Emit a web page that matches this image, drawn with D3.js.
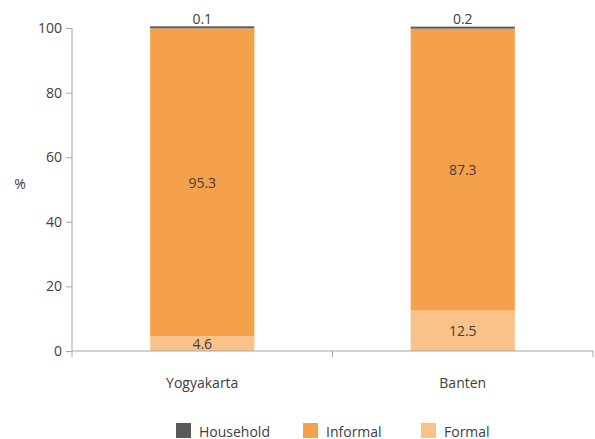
<!DOCTYPE html>
<html><head><meta charset="utf-8">
<script src="https://cdn.jsdelivr.net/npm/d3@7"></script>
<style>body{margin:0;background:#fff}svg text{font-family:"Open Sans",sans-serif;fill:#404040}</style>
</head><body><svg id="c" width="595" height="439"></svg>
<script>
const categories = ["Yogyakarta", "Banten"];
const seriesNames = ["Formal", "Informal", "Household"];
const formal = [4.6, 12.5];
const informal = [95.3, 87.3];
const household = [0.1, 0.2];
const yTicks = [0, 20, 40, 60, 80, 100];
const colors = {Household: "#58595b", Informal: "#f5a04a", Formal: "#f9c289"};

const svg = d3.select("#c");
const x = d3.scaleBand().domain(categories).range([72, 593]).paddingInner(0.6).paddingOuter(0.3);
const y = d3.scaleLinear().domain([0, 100]).range([351, 28]);

const data = categories.map((c, i) => ({cat: c, Formal: formal[i], Informal: informal[i], Household: household[i]}));
const stack = d3.stack().keys(seriesNames)(data);

// bars
stack.forEach(layer => {
  const key = layer.key;
  svg.append("g").selectAll("rect").data(layer).join("rect")
    .attr("x", d => x(d.data.cat))
    .attr("width", x.bandwidth())
    .attr("y", d => key === "Household" ? Math.min(y(d[1]), y(d[0]) - 2) : y(d[1]))
    .attr("height", d => key === "Household" ? Math.max(y(d[0]) - y(d[1]), 2) : y(d[0]) - y(d[1]))
    .attr("fill", colors[key]);
});

// value labels
stack.forEach(layer => {
  const key = layer.key;
  svg.append("g").selectAll("text").data(layer).join("text")
    .attr("x", d => x(d.data.cat) + x.bandwidth() / 2)
    .attr("y", d => key === "Household" ? y(d[1]) - 10 : (y(d[0]) + y(d[1])) / 2)
    .attr("text-anchor", "middle")
    .attr("dominant-baseline", "central")
    .attr("font-size", 14)
    .text(d => d.data[key].toFixed(1));
});

// y axis
const ya = svg.append("g").attr("transform", "translate(72,0)")
  .call(d3.axisLeft(y).tickValues(yTicks).tickSize(6).tickPadding(4));
ya.selectAll("text").attr("font-size", 14).style("fill", "#404040");
ya.selectAll("line,path").attr("stroke", "#a6a6a6");
ya.select("path").attr("d", "M0,351V28");

// x axis
const xa = svg.append("g").attr("transform", "translate(0,351)");
xa.append("line").attr("x1", 72).attr("x2", 593).attr("stroke", "#a6a6a6");
const bounds = [72, 72 + x.step(), 593];
xa.selectAll("line.t").data(bounds).join("line").attr("class", "t")
  .attr("x1", d => d).attr("x2", d => d).attr("y1", 0).attr("y2", 6).attr("stroke", "#a6a6a6");
xa.selectAll("text").data(categories).join("text")
  .attr("x", d => x(d) + x.bandwidth() / 2)
  .attr("y", 37)
  .attr("text-anchor", "middle")
  .attr("font-size", 14)
  .text(d => d);

// % label
svg.append("text").attr("x", 20).attr("y", 183).attr("text-anchor", "middle")
  .attr("dominant-baseline", "central").attr("font-size", 14).text("%");

// legend
const legendItems = ["Household", "Informal", "Formal"];
const legendX = [176, 303, 421];
const lg = svg.append("g");
legendItems.forEach((k, i) => {
  lg.append("rect").attr("x", legendX[i]).attr("y", 423).attr("width", 15).attr("height", 15).attr("fill", colors[k]);
  lg.append("text").attr("x", legendX[i] + 23).attr("y", 431).attr("dominant-baseline", "central")
    .attr("font-size", 14).text(k);
});
</script></body></html>
